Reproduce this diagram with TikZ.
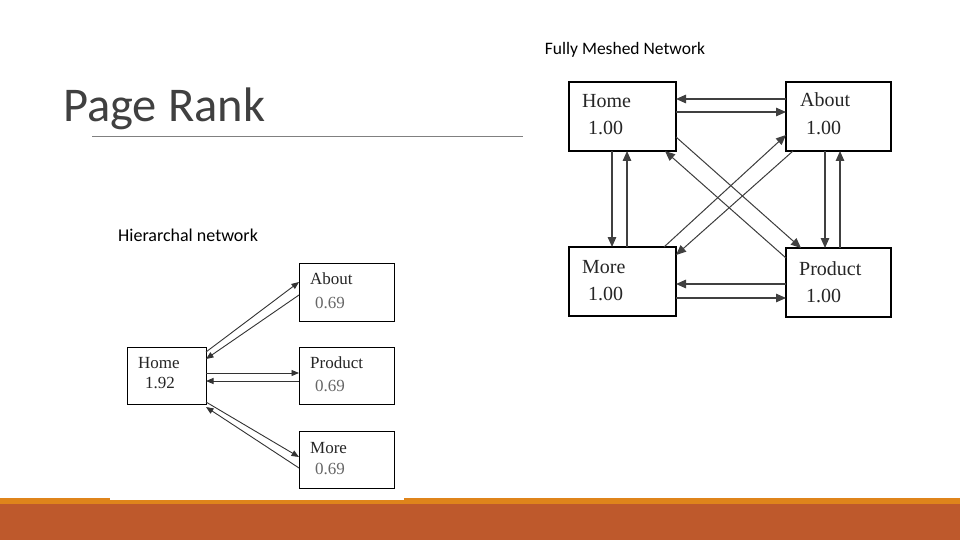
\documentclass[tikz,border=0pt]{standalone}
\usepackage{fontspec}
\setmainfont{Carlito}
\newfontfamily\serifimg{Liberation Serif}
\usetikzlibrary{arrows.meta}
\definecolor{footA}{RGB}{223,132,27}
\definecolor{footB}{RGB}{190,89,44}
\definecolor{titlegray}{RGB}{64,64,64}
\tikzset{
  box/.style={draw=black, line width=1.2pt, inner sep=0pt, outer sep=0pt, anchor=north west},
  sbox/.style={box, line width=1pt},
  lbl/.style={inner sep=0pt, anchor=base west, font=\serifimg\fontsize{20}{21}\selectfont, text=black!85},
  slbl/.style={lbl, font=\serifimg\fontsize{17}{18}\selectfont},
  arr/.style={-{Triangle[length=10pt,width=8.5pt]}, line width=1.3pt, draw=black!75, fill=black!85},
  sarr/.style={-{Triangle[length=7.5pt,width=6pt]}, line width=0.9pt, draw=black!80},
  caption/.style={inner sep=0pt, font=\fontsize{17.5}{18}\selectfont, text=black}
}
\begin{document}
\begin{tikzpicture}[x=1pt,y=-1pt]
\useasboundingbox (0,0) rectangle (960,540);
\fill[white] (0,0) rectangle (960,540);

% title
\node[inner sep=0pt, anchor=base west, font=\fontsize{48.5}{50}\selectfont, text=titlegray] (title) at (63,122) {Page Rank};
\draw[black!50, line width=0.9pt] (92,136) -- (523,136);

\node[caption, anchor=base] (capmesh) at (625,55) {Fully Meshed Network};
\node[caption, anchor=base west, font=\fontsize{18}{19}\selectfont] (caphier) at (118,241) {Hierarchal network};

% footer
\fill[footA] (0,498) rectangle (960,504);
\fill[footB] (0,504) rectangle (960,540);
\fill[white] (110,498) rectangle (404,500);

% ---------- fully meshed ----------
\node[box, minimum width=107pt, minimum height=69pt] (home) at (569,82) {};
\node[box, minimum width=105pt, minimum height=69pt] (about) at (786,82) {};
\node[box, minimum width=107pt, minimum height=69pt] (more) at (569,247) {};
\node[box, minimum width=105pt, minimum height=69pt] (product) at (786,248) {};

\node[lbl] (homeT) at (582,108) {Home};
\node[lbl] (homeV) at (588,135) {1.00};
\node[lbl] (aboutT) at (800,107) {About};
\node[lbl] (aboutV) at (806,135) {1.00};
\node[lbl] (moreT) at (582,273) {More};
\node[lbl] (moreV) at (588,300) {1.00};
\node[lbl] (productT) at (799,275) {Product};
\node[lbl] (productV) at (806,302) {1.00};

\draw[arr] (about.west |- 0,99) -- (home.east |- 0,99);
\draw[arr] (home.east |- 0,112) -- (about.west |- 0,112);
\draw[arr] (home.south -| 612,0) -- (more.north -| 612,0);
\draw[arr] (more.north -| 627,0) -- (home.south -| 627,0);
\draw[arr] (about.south -| 825,0) -- (product.north -| 825,0);
\draw[arr] (product.north -| 840,0) -- (about.south -| 840,0);
\draw[arr] (product.west |- 0,284) -- (more.east |- 0,284);
\draw[arr] (more.east |- 0,298) -- (product.west |- 0,298);
\draw[arr, line width=1pt] (home.east |- 0,137) -- (product.north -| 801,0);
\draw[arr, line width=1pt] (product.west |- 0,258) -- (home.south -| 665,0);
\draw[arr, line width=1pt] (more.north -| 664,0) -- (about.west |- 0,135);
\draw[arr, line width=1pt] (about.south -| 793,0) -- (more.east |- 0,255);

% ---------- hierarchical ----------
\node[sbox, minimum width=79pt, minimum height=57pt] (home2) at (127,347) {};
\node[sbox, minimum width=95pt, minimum height=58pt] (about2) at (299,263) {};
\node[sbox, minimum width=95pt, minimum height=57pt] (product2) at (299,347) {};
\node[sbox, minimum width=95pt, minimum height=57pt] (more2) at (299,431) {};

\node[slbl] (home2T) at (138,368) {Home};
\node[slbl] (home2V) at (145,388) {1.92};
\node[slbl] (about2T) at (310,284) {About};
\node[slbl, text=black!60] (about2V) at (315,308) {0.69};
\node[slbl] (product2T) at (310,368) {Product};
\node[slbl, text=black!60] (product2V) at (315,391) {0.69};
\node[slbl] (more2T) at (310,453) {More};
\node[slbl, text=black!60] (more2V) at (315,474) {0.69};

\draw[sarr] (home2.east |- 0,352) -- (about2.west |- 0,282);
\draw[sarr] (about2.west |- 0,295) -- (home2.east |- 0,359);
\draw[sarr] (home2.east |- 0,373) -- (product2.west |- 0,373);
\draw[sarr] (product2.west |- 0,381) -- (home2.east |- 0,381);
\draw[sarr] (home2.east |- 0,402) -- (more2.west |- 0,457);
\draw[sarr] (more2.west |- 0,468) -- (home2.east |- 0,407);
\end{tikzpicture}
\end{document}
